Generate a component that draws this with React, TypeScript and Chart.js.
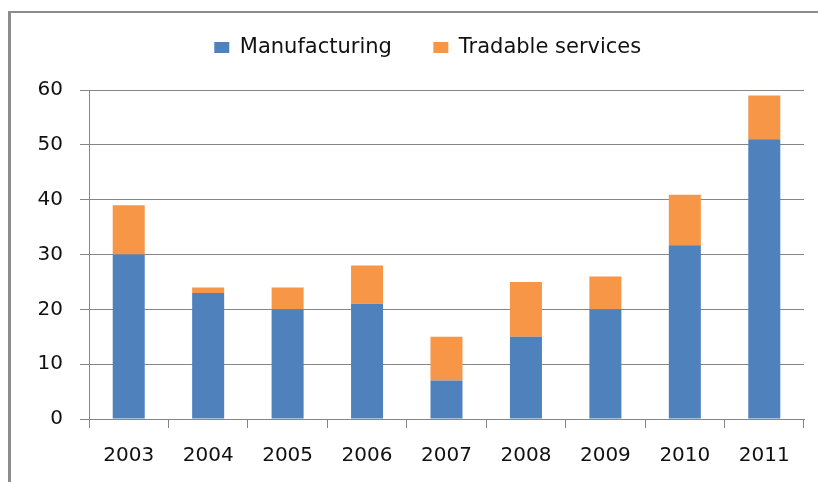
import { useEffect, useRef } from "react";
import { Chart, registerables } from "chart.js";

Chart.register(...registerables);

const years = ["2003", "2004", "2005", "2006", "2007", "2008", "2009", "2010", "2011"];
const manufacturing = [30, 23, 20, 21, 7, 15, 20, 31.7, 51];
const tradableServices = [9, 1, 4, 7, 8, 10, 6, 9.2, 8];
const yMin = 0;
const yMax = 60;
const yStep = 10;

const FONT = "'DejaVu Sans', sans-serif";
const GRID = "#868686";
const TEXT = "#111111";

export default function App() {
  const ref = useRef<HTMLCanvasElement>(null);

  useEffect(() => {
    if (!ref.current) return;
    const chart = new Chart(ref.current, {
      type: "bar",
      data: {
        labels: years,
        datasets: [
          {
            label: "Manufacturing",
            data: manufacturing,
            backgroundColor: "#4F81BD",
            categoryPercentage: 1,
            barPercentage: 0.403,
            yAxisID: "y",
          },
          {
            label: "Tradable services",
            data: tradableServices,
            backgroundColor: "#F79646",
            categoryPercentage: 1,
            barPercentage: 0.403,
            yAxisID: "y",
          },
        ],
      },
      options: {
        responsive: false,
        animation: false,
        devicePixelRatio: 1,
        layout: { padding: { top: -4.5, left: 34, right: -3.5, bottom: 0 } },
        plugins: {
          legend: {
            position: "top",
            align: "center",
            weight: 1000,
            labels: {
              boxWidth: 15,
              boxHeight: 11,
              padding: 41.5,
              color: TEXT,
              font: { family: FONT, size: 21 },
            },
          } as any,
          title: {
            display: true,
            text: "",
            weight: 500,
            padding: 0,
            font: { size: 22, lineHeight: 1 },
          } as any,
          tooltip: { enabled: false },
        },
        scales: {
          x: {
            stacked: true,
            grid: {
              offset: true,
              drawOnChartArea: false,
              drawTicks: true,
              tickLength: 9,
              color: GRID,
            },
            border: { color: GRID },
            ticks: {
              padding: 16,
              color: TEXT,
              font: { family: FONT, size: 20 },
              maxRotation: 0,
            },
            afterFit: (s: any) => {
              s.height = 63;
            },
          },
          y: {
            stacked: true,
            position: "left",
            min: yMin,
            max: yMax,
            ticks: {
              stepSize: yStep,
              padding: 17,
              color: TEXT,
              font: { family: FONT, size: 20 },
            },
            grid: { color: GRID, tickLength: 9 },
            border: { color: GRID },
            afterFit: (s: any) => {
              s.width = 55;
            },
          },
          spacer: {
            type: "linear",
            position: "right",
            display: true,
            grid: { display: false, drawTicks: false },
            border: { display: false },
            ticks: { display: false },
            afterFit: (s: any) => {
              s.width = 17.5;
            },
          },
        } as any,
      },
    });
    return () => chart.destroy();
  }, []);

  return (
    <div
      style={{
        position: "fixed",
        left: 0,
        top: 0,
        width: 818,
        height: 482,
        background: "#ffffff",
        overflow: "hidden",
      }}
    >
      <div
        style={{
          position: "absolute",
          left: 8,
          top: 11,
          width: 900,
          height: 600,
          borderLeft: "3px solid #8c8c8c",
          borderTop: "2px solid #8c8c8c",
        }}
      />
      <canvas
        ref={ref}
        width={818}
        height={482}
        style={{ position: "absolute", left: 0, top: 0, display: "block" }}
      />
    </div>
  );
}
